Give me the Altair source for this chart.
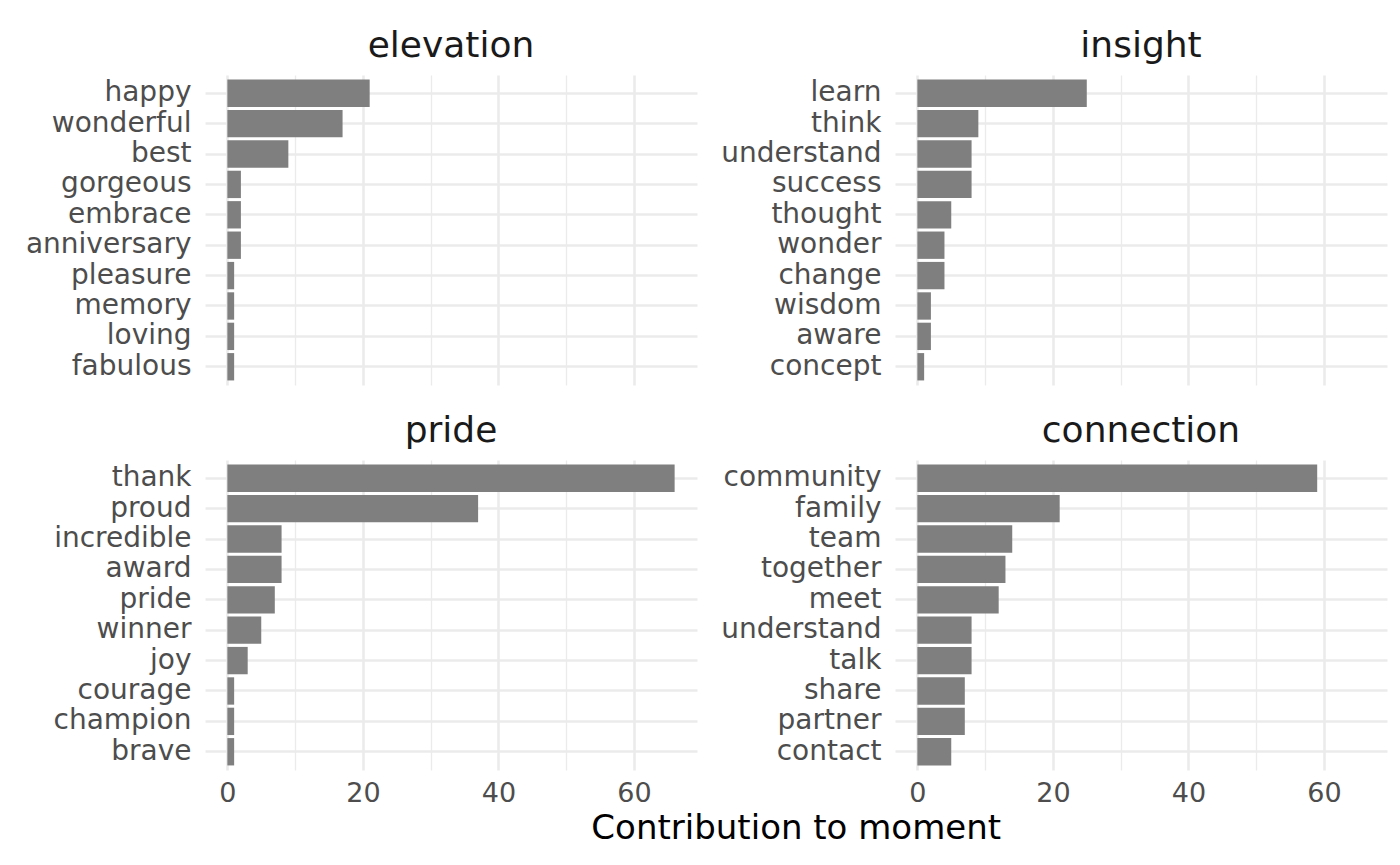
import altair as alt
import pandas as pd

# ---- data ----
moments = ["elevation", "insight", "pride", "connection"]

elevation_words = ["happy", "wonderful", "best", "gorgeous", "embrace",
                   "anniversary", "pleasure", "memory", "loving", "fabulous"]
elevation_vals = [21, 17, 9, 2, 2, 2, 1, 1, 1, 1]

insight_words = ["learn", "think", "understand", "success", "thought",
                 "wonder", "change", "wisdom", "aware", "concept"]
insight_vals = [25, 9, 8, 8, 5, 4, 4, 2, 2, 1]

pride_words = ["thank", "proud", "incredible", "award", "pride",
               "winner", "joy", "courage", "champion", "brave"]
pride_vals = [66, 37, 8, 8, 7, 5, 3, 1, 1, 1]

connection_words = ["community", "family", "team", "together", "meet",
                    "understand", "talk", "share", "partner", "contact"]
connection_vals = [59, 21, 14, 13, 12, 8, 8, 7, 7, 5]

x_tick_values = [0, 10, 20, 30, 40, 50, 60]
x_domain = [-3.3, 69.3]

FONT = "DejaVu Sans"
GRID = "#EBEBEB"


def panel(name, words, vals, show_x_labels):
    df = pd.DataFrame({"word": words, "n": vals, "moment": name})
    x_axis = alt.Axis(
        values=x_tick_values,
        labels=show_x_labels,
        labelExpr="datum.value % 20 === 0 ? datum.label : ''",
        title=None,
        ticks=False,
        domain=False,
        grid=True,
        gridColor=GRID,
        gridWidth={"condition": {"test": "datum.value % 20 === 0", "value": 2.6}, "value": 1.3},
        labelFontSize=27,
        labelColor="#4D4D4D",
        labelFont=FONT,
        labelPadding=10,
    )
    y_axis = alt.Axis(
        title=None,
        ticks=False,
        domain=False,
        grid=True,
        gridColor=GRID,
        gridWidth=2.6,
        bandPosition=0.5,
        labelFontSize=28,
        labelColor="#4D4D4D",
        labelFont=FONT,
        labelPadding=14,
    )
    return (
        alt.Chart(
            df,
            title=alt.TitleParams(
                text=name, fontSize=36, font=FONT, fontWeight="normal",
                color="#1A1A1A", anchor="middle", frame="group", offset=10,
            ),
        )
        .mark_bar(color="#7F7F7F")
        .encode(
            x=alt.X("n:Q", scale=alt.Scale(domain=x_domain, nice=False, zero=False), axis=x_axis),
            x2=alt.datum(0),
            y=alt.Y("word:N", sort=words,
                    scale=alt.Scale(paddingInner=0.1, paddingOuter=0.15), axis=y_axis),
        )
        .properties(width=492, height=310)
    )


charts = [
    panel(moments[0], elevation_words, elevation_vals, False),
    panel(moments[1], insight_words, insight_vals, False),
    panel(moments[2], pride_words, pride_vals, True),
    panel(moments[3], connection_words, connection_vals, True),
]

chart = (
    alt.concat(*charts, columns=2, spacing={"row": 28, "column": 23})
    .properties(
        title=alt.TitleParams(
            text="Contribution to moment", orient="bottom", anchor="middle",
            fontSize=34, font=FONT, fontWeight="normal", color="#000000",
            offset=6, dx=90,
        ),
        padding={"left": 17, "top": 20, "right": 5, "bottom": 5},
        background="white",
    )
    .configure_view(stroke=None)
)

chart.save("out.html", embed_options={"renderer": "svg", "actions": False})
